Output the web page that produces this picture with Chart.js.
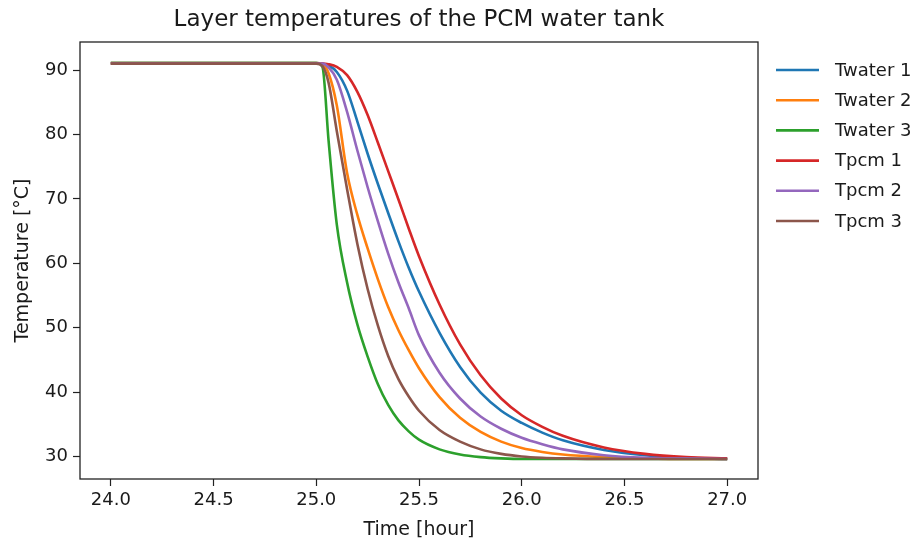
<!DOCTYPE html>
<html>
<head>
<meta charset="utf-8">
<script src="https://cdn.jsdelivr.net/npm/chart.js@4/dist/chart.umd.min.js"></script>
<style>
  html, body { margin: 0; padding: 0; background: #fff; }
  #wrap { width: 922px; height: 540px; }
</style>
</head>
<body>
<div id="wrap"><canvas id="tank-chart" width="922" height="540"></canvas></div>
<script>
// time in hours
const times = [24.0, 24.5, 25.0, 25.03, 25.06, 25.1, 25.15, 25.2, 25.25, 25.3, 25.35, 25.4, 25.45, 25.5,
  25.6, 25.7, 25.8, 25.9, 26.0, 26.1, 26.2, 26.4, 26.6, 26.8, 27.0];

const twater1 = [91.1, 91.1, 91.1, 91.0, 90.7, 89.7, 86.8, 82.0, 77.0, 72.3, 67.8, 63.4, 59.3, 55.6,
  49.2, 43.9, 39.9, 37.1, 35.2, 33.7, 32.5, 31.0, 30.2, 29.8, 29.6];
const twater2 = [91.1, 91.1, 91.1, 90.9, 89.5, 84.5, 74.0, 67.5, 62.3, 57.5, 53.2, 49.6, 46.5, 43.7,
  39.2, 36.0, 33.8, 32.3, 31.3, 30.7, 30.3, 29.9, 29.7, 29.6, 29.6];
const twater3 = [91.1, 91.1, 91.1, 90.5, 79.0, 66.0, 57.0, 50.5, 45.5, 41.2, 38.0, 35.6, 33.9, 32.6,
  31.1, 30.3, 29.9, 29.7, 29.6, 29.6, 29.6, 29.6, 29.6, 29.6, 29.6];
const tpcm1 = [91.0, 91.0, 91.0, 91.0, 90.9, 90.5, 89.2, 86.6, 83.0, 78.7, 74.3, 69.9, 65.4, 61.1,
  53.6, 47.4, 42.6, 39.0, 36.4, 34.6, 33.2, 31.4, 30.4, 29.9, 29.7];
const tpcm2 = [91.0, 91.0, 91.0, 91.0, 90.4, 88.5, 83.5, 77.5, 71.8, 66.5, 61.5, 57.0, 53.0, 48.8,
  43.0, 39.0, 36.2, 34.3, 32.9, 31.9, 31.1, 30.2, 29.8, 29.7, 29.6];
const tpcm3 = [91.0, 91.0, 91.0, 90.6, 88.0, 80.5, 71.5, 63.0, 56.0, 50.3, 45.6, 42.0, 39.3, 37.1,
  34.1, 32.3, 31.1, 30.4, 30.0, 29.8, 29.7, 29.6, 29.6, 29.6, 29.6];

const seriesNames = ['Twater 1', 'Twater 2', 'Twater 3', 'Tpcm 1', 'Tpcm 2', 'Tpcm 3'];
const seriesValues = [twater1, twater2, twater3, tpcm1, tpcm2, tpcm3];
const seriesColors = ['#1f77b4', '#ff7f0e', '#2ca02c', '#d62728', '#9467bd', '#8c564b'];

const FONT = "'DejaVu Sans', sans-serif";
const TEXT = '#1a1a1a';

function toPoints(values) {
  return times.map((t, i) => ({ x: t, y: values[i] }));
}

const datasets = seriesNames.map((name, i) => ({
  label: name,
  data: toPoints(seriesValues[i]),
  borderColor: seriesColors[i],
  backgroundColor: seriesColors[i],
  borderWidth: 2.6,
  pointRadius: 0,
  cubicInterpolationMode: 'monotone',
  order: seriesNames.length - i, // later series on top, like matplotlib
}));

// title, frame and legend drawn like matplotlib
const decorations = {
  id: 'decorations',
  afterDraw(chart) {
    const { ctx, chartArea } = chart;
    ctx.save();
    ctx.strokeStyle = '#222';
    ctx.lineWidth = 1.3;
    ctx.strokeRect(chartArea.left, chartArea.top,
      chartArea.right - chartArea.left, chartArea.bottom - chartArea.top);

    ctx.fillStyle = TEXT;
    ctx.font = '23px ' + FONT;
    ctx.textAlign = 'center';
    ctx.textBaseline = 'middle';
    ctx.fillText('Layer temperatures of the PCM water tank',
      (chartArea.left + chartArea.right) / 2, 20);

    ctx.font = '18px ' + FONT;
    ctx.textAlign = 'left';
    const lx = chartArea.right + 18;
    seriesNames.forEach((name, i) => {
      const y = chartArea.top + 28 + i * 30.2;
      ctx.strokeStyle = seriesColors[i];
      ctx.lineWidth = 2.6;
      ctx.beginPath();
      ctx.moveTo(lx, y);
      ctx.lineTo(lx + 43, y);
      ctx.stroke();
      ctx.fillStyle = TEXT;
      ctx.fillText(name, lx + 59, y + 1);
    });
    ctx.restore();
  },
};

new Chart(document.getElementById('tank-chart'), {
  type: 'line',
  data: { datasets },
  options: {
    responsive: false,
    animation: false,
    layout: { padding: { top: 42, right: 164, left: 0, bottom: 0 } },
    plugins: {
      legend: { display: false },
      title: { display: false },
      tooltip: { enabled: false },
    },
    scales: {
      x: {
        type: 'linear',
        min: 23.85,
        max: 27.15,
        border: { display: false },
        grid: { drawOnChartArea: false, tickLength: 7, tickColor: '#222', tickWidth: 1.2 },
        ticks: {
          stepSize: 0.5,
          includeBounds: false,
          padding: 4,
          color: TEXT,
          font: { family: FONT, size: 18 },
          callback: (v) => v.toFixed(1),
          maxRotation: 0,
        },
        title: {
          display: true,
          text: 'Time [hour]',
          color: TEXT,
          font: { family: FONT, size: 19, lineHeight: 1.0 },
          padding: { top: 0, bottom: 0 },
        },
        afterFit: (scale) => { scale.height = 61; },
      },
      y: {
        min: 26.5,
        max: 94.35,
        border: { display: false },
        grid: { drawOnChartArea: false, tickLength: 7, tickColor: '#222', tickWidth: 1.2 },
        ticks: {
          stepSize: 10,
          includeBounds: false,
          padding: 5,
          color: TEXT,
          font: { family: FONT, size: 18 },
        },
        title: {
          display: true,
          text: 'Temperature [°C]',
          color: TEXT,
          font: { family: FONT, size: 19 },
          padding: { top: 12, bottom: 0 },
        },
        afterFit: (scale) => { scale.width = 80; },
      },
    },
  },
  plugins: [decorations],
});
</script>
</body>
</html>
